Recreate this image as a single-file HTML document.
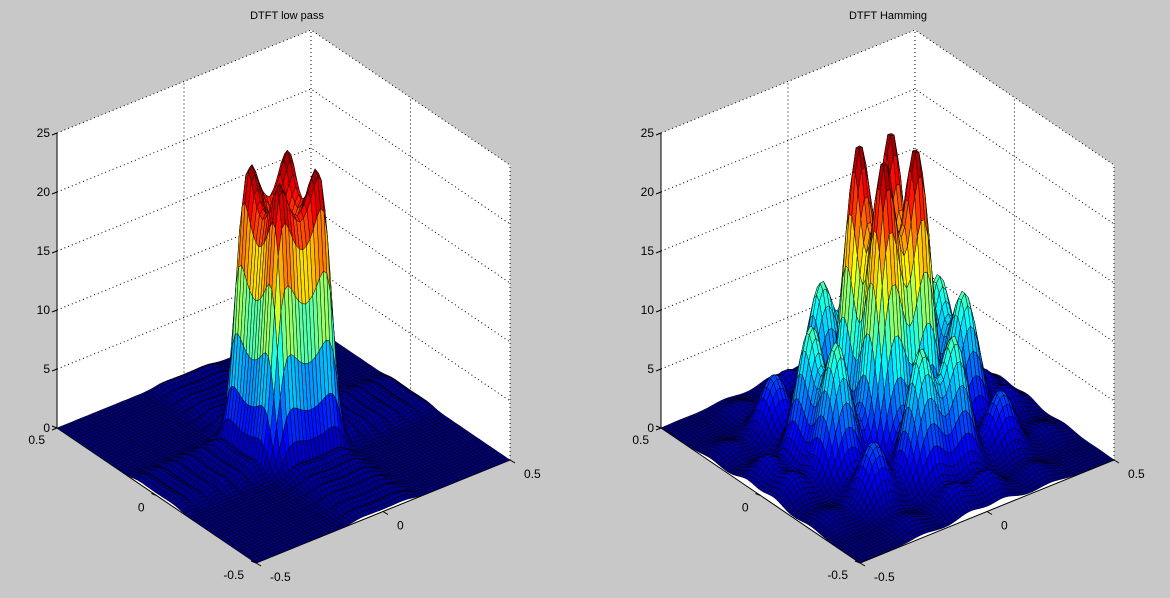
<!DOCTYPE html>
<html><head><meta charset="utf-8">
<style>
html,body{margin:0;padding:0;background:#c8c8c8;}
svg{display:block;}
text{font-family:"Liberation Sans",Arial,sans-serif;font-size:12px;fill:#000;}
</style></head>
<body>
<svg id="s" width="1170" height="598" xmlns="http://www.w3.org/2000/svg">
<rect width="1170" height="598" fill="#c8c8c8"/>
</svg>
<script>
(function(){
var svg=document.getElementById('s');
var out='';
function jet(t){
  t=Math.max(0,Math.min(1,t));
  function c(x){return Math.max(0,Math.min(1,x));}
  var r=c(1.5-Math.abs(4*t-3)),g=c(1.5-Math.abs(4*t-2)),b=c(1.5-Math.abs(4*t-1));
  return 'rgb('+Math.round(r*255)+','+Math.round(g*255)+','+Math.round(b*255)+')';
}
function G(x,m,s){return Math.exp(-Math.pow((x-m)/s,2));}
function fLow(x){
  var a=Math.abs(x);
  var pl=1/(1+Math.exp((a-0.12)/0.014));
  var v=pl*(0.86+0.2*G(a,0.085,0.045));
  v+=0.06*Math.abs(Math.sin(2*Math.PI*x*9))*(1-pl)*Math.exp(-a*3);
  return v+0.01;
}
function fHam(x){
  return G(x,0.065,0.065)+G(x,-0.065,0.065)+0.45*(G(x,0.25,0.065)+G(x,-0.25,0.065))+0.06*(G(x,0.42,0.05)+G(x,-0.42,0.05))+0.02;
}
function plot(ox,f,zmax,title,tx){
  var F=[256+ox,563],Rv=[254,-103],Lv=[-199,-135],H=295;
  function P(x,y,z){var u=x+0.5,v=y+0.5;return [F[0]+u*Rv[0]+v*Lv[0],F[1]+u*Rv[1]+v*Lv[1]-z*H/25];}
  function pt(p){return p[0].toFixed(1)+','+p[1].toFixed(1);}
  var L=P(-0.5,0.5,0),B=P(0.5,0.5,0),R=P(0.5,-0.5,0),Lt=P(-0.5,0.5,25),Bt=P(0.5,0.5,25),Rt=P(0.5,-0.5,25);
  out+='<polygon points="'+pt(L)+' '+pt(B)+' '+pt(Bt)+' '+pt(Lt)+'" fill="#fff"/>';
  out+='<polygon points="'+pt(B)+' '+pt(R)+' '+pt(Rt)+' '+pt(Bt)+'" fill="#fff"/>';
  out+='<polygon points="'+pt(L)+' '+pt(B)+' '+pt(R)+' '+pt(F)+'" fill="#fff"/>';
  var dot='stroke="#000" stroke-width="1" stroke-dasharray="1,3" fill="none"';
  for(var z=5;z<=25;z+=5){
    var a=P(-0.5,0.5,z),b=P(0.5,0.5,z),c=P(0.5,-0.5,z);
    out+='<polyline points="'+pt(a)+' '+pt(b)+' '+pt(c)+'" '+dot+'/>';
  }
  var m1=P(0,0.5,0),m2=P(0,0.5,25),m3=P(0.5,0,0),m4=P(0.5,0,25);
  out+='<line x1="'+m1[0]+'" y1="'+m1[1]+'" x2="'+m2[0]+'" y2="'+m2[1]+'" '+dot+'/>';
  out+='<line x1="'+m3[0]+'" y1="'+m3[1]+'" x2="'+m4[0]+'" y2="'+m4[1]+'" '+dot+'/>';
  out+='<line x1="'+B[0]+'" y1="'+B[1]+'" x2="'+Bt[0]+'" y2="'+Bt[1]+'" '+dot+'/>';
  out+='<line x1="'+R[0]+'" y1="'+R[1]+'" x2="'+Rt[0]+'" y2="'+Rt[1]+'" '+dot+'/>';
  out+='<line x1="'+L[0]+'" y1="'+L[1]+'" x2="'+Lt[0]+'" y2="'+Lt[1]+'" stroke="#000" stroke-width="1"/>';
  out+='<polyline points="'+pt(L)+' '+pt(F)+' '+pt(R)+'" stroke="#000" stroke-width="1" fill="none"/>';
  for(var z=0;z<=25;z+=5){var p=P(-0.5,0.5,z);
    out+='<line x1="'+(p[0]-5)+'" y1="'+(p[1]+2)+'" x2="'+p[0]+'" y2="'+p[1]+'" stroke="#000"/>';
    out+='<text x="'+(p[0]-7)+'" y="'+(p[1]+4)+'" text-anchor="end">'+z+'</text>';}
  var labs=[['0.5',0.5],['0',0],['-0.5',-0.5]];
  labs.forEach(function(l){var p=P(-0.5,l[1],0);
    out+='<line x1="'+p[0]+'" y1="'+p[1]+'" x2="'+(p[0]-5)+'" y2="'+(p[1]-2)+'" stroke="#000"/>';
    out+='<text x="'+(p[0]-12)+'" y="'+(p[1]+16)+'" text-anchor="end">'+l[0]+'</text>';
    var q=P(l[1],-0.5,0);
    out+='<line x1="'+q[0]+'" y1="'+q[1]+'" x2="'+(q[0]+5)+'" y2="'+(q[1]+3)+'" stroke="#000"/>';
    out+='<text x="'+(q[0]+14)+'" y="'+(q[1]+18)+'" text-anchor="start">'+l[0]+'</text>';
  });
  out+='<text x="'+tx+'" y="19" text-anchor="middle" style="font-size:11px">'+title+'</text>';
  var N=72,Z=[],fx=[],mx=0,mn=1e9;
  for(var i=0;i<=N;i++)fx.push(f(-0.5+i/N));
  for(var i=0;i<=N;i++){Z.push([]);for(var j=0;j<=N;j++){var v=fx[i]*fx[j];Z[i].push(v);if(v>mx)mx=v;if(v<mn)mn=v;}}
  var sc=zmax/mx;
  var Pp=[];
  for(var i=0;i<=N;i++){Pp.push([]);for(var j=0;j<=N;j++)Pp[i].push(P(-0.5+i/N,-0.5+j/N,Z[i][j]*sc));}
  for(var s=2*N-2;s>=0;s--){
    for(var i=Math.max(0,s-(N-1));i<=Math.min(N-1,s);i++){var j=s-i;
      var za=(Z[i][j]+Z[i+1][j]+Z[i][j+1]+Z[i+1][j+1])/4;
      var col=jet((za-mn)/(mx-mn));
      out+='<polygon points="'+pt(Pp[i][j])+' '+pt(Pp[i+1][j])+' '+pt(Pp[i+1][j+1])+' '+pt(Pp[i][j+1])+'" fill="'+col+'" stroke="#000" stroke-width="0.45"/>';
    }
  }
}
plot(0,fLow,23.5,'DTFT low pass',287);
plot(604,fHam,25,'DTFT Hamming',888);
svg.insertAdjacentHTML('beforeend',out);
})();
</script>
</body></html>
